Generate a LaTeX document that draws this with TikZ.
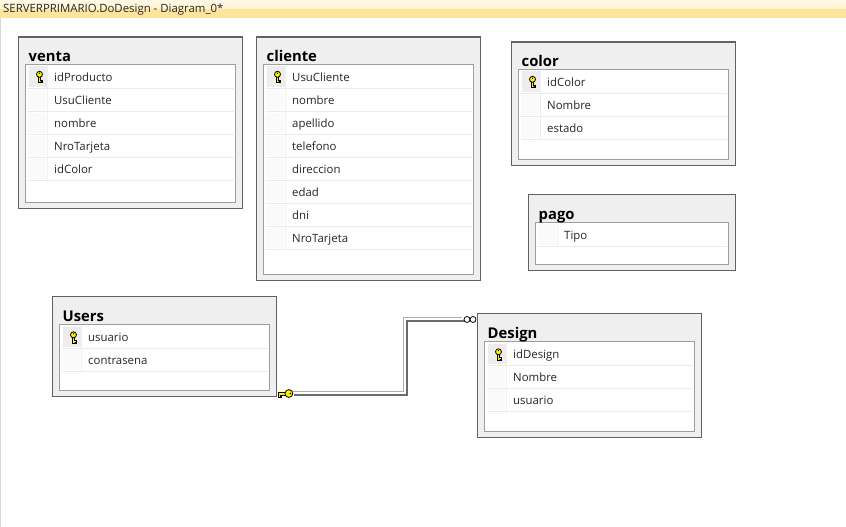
\documentclass[tikz,border=0pt]{standalone}
\usepackage{fontspec}
\setmainfont{Open Sans}
\usetikzlibrary{calc}
\definecolor{bandlight}{HTML}{FFF9E6}
\definecolor{bandmid}{HTML}{FFF3D2}
\definecolor{bandlow}{HTML}{FFE49E}
\definecolor{boxfill}{HTML}{EFEFEF}
\tikzset{
	tablebox/.style={draw=black!62, line width=1.1pt, fill=boxfill, anchor=north west, inner sep=0pt, outer sep=0pt},
	fieldbox/.style={draw=black!38, line width=1pt, fill=white, anchor=north west, inner sep=0pt, outer sep=0pt},
	tabletitle/.style={anchor=base west, inner sep=0pt, font=\fontsize{14.8}{15}\selectfont\bfseries, text=black},
	fieldname/.style={anchor=base west, inner sep=0pt, font=\fontsize{11.4}{12}\selectfont, text=black!85},
	manyend/.style={circle, draw=black, fill=white, line width=.8pt, minimum size=6pt, inner sep=0pt},
	pkkey/.pic={
		\filldraw[fill=yellow, draw=black, line width=.5pt] (-1.2,0) -- (-1.2,6) -- (2.6,6) -- (2.6,4.8) -- (1.2,4.8) -- (2.6,4.8) -- (2.6,3.4) -- (1.2,3.4) -- (1.2,0) -- cycle;
		\filldraw[fill=yellow, draw=black, line width=.8pt] (0,-2.2) circle (3);
		\fill[black] (0,-3.3) circle (.7);
	}
}
% x1 y1 x2 y2 of the outer frame, then title and fields
\newcommand{\dbtable}[7]{
	\node[tablebox, minimum width={#4-#2}, minimum height={#5-#3}] (#1) at (#2,#3) {};
	\node[fieldbox, minimum width={#4-#2-14}, minimum height={#5-#3-34}] (#1-list) at (#2+7,#3+28) {};
	\node[tabletitle] (#1-title) at (#2+10,#3+24.6) {#6};
	\foreach \fname [count=\i] in {#7} {
		\pgfmathsetmacro{\rowy}{#3+28+12+23*(\i-1)}
		\fill[black!2] (#2+9.5,\rowy-10.5) rectangle (#2+27.5,\rowy+10);
		\draw[black!8, line width=1pt] (#2+9,\rowy+11.5) -- (#4-9,\rowy+11.5);
		\draw[black!6, line width=1pt] (#2+28.5,\rowy-11) -- (#2+28.5,\rowy+11);
		\node[fieldname] (#1-\i) at (#2+35.5,\rowy+4.8) {\fname};
	}
}
% primary key mark in the first row
\newcommand{\keymark}[2]{
	\fill[black!7] (#1-11,#2-10.5) rectangle (#1+7,#2+10);
	\pic at (#1,#2) {pkkey};
}

\begin{document}
\begin{tikzpicture}[x=1pt, y=-1pt]
	\useasboundingbox (0,0) rectangle (846,527);
	\fill[white] (0,0) rectangle (846,527);
	\fill[black!15] (0,18) rectangle (1,527);
	\shade[top color=bandlight, bottom color=bandmid] (0,0) rectangle (846,9);
	\fill[bandlow] (0,9) rectangle (846,18);
	\node[anchor=base west, inner sep=0pt, font=\fontsize{11.4}{12}\selectfont, text=black!85] (caption) at (3,13) {SERVERPRIMARIO.DoDesign - Diagram\_0*};

	\dbtable{venta}{18.5}{37}{242.5}{208.5}{venta}{idProducto,UsuCliente,nombre,NroTarjeta,idColor}
	\dbtable{cliente}{256.5}{37}{480.5}{280.5}{cliente}{UsuCliente,nombre,apellido,telefono,direccion,edad,dni,NroTarjeta}
	\dbtable{color}{511.5}{42}{735.5}{165.5}{color}{idColor,Nombre,estado}
	\dbtable{pago}{528.5}{194.9}{735.5}{270.5}{pago}{Tipo}
	\dbtable{Users}{52.5}{296.9}{276.5}{396.5}{Users}{usuario,contrasena}
	\dbtable{Design}{477.5}{313.9}{701.5}{437.5}{Design}{idDesign,Nombre,usuario}

	\keymark{39.5}{76.5}
	\keymark{277.5}{76.5}
	\keymark{532.5}{81.5}
	\keymark{73.5}{337}
	\keymark{498.5}{354}

	% relationship
	\coordinate (reluser) at (292,393);
	\coordinate (relbend) at (405.5,350);
	\coordinate (reldesign) at (464,319.5);
	\draw[black!32, line width=1.3pt, transform canvas={xshift=-1.7pt, yshift=1.7pt}] (reluser) -| (relbend) |- (reldesign);
	\draw[black!58, line width=2pt, transform canvas={xshift=1.7pt, yshift=-1.7pt}] (reluser) -| (relbend) |- (reldesign);
	\node[manyend] (manya) at (467,319.5) {};
	\node[manyend] (manyb) at (473,319.5) {};
	\pic[rotate=-90, scale=1.3] at (286,393.5) {pkkey};
\end{tikzpicture}
\end{document}
